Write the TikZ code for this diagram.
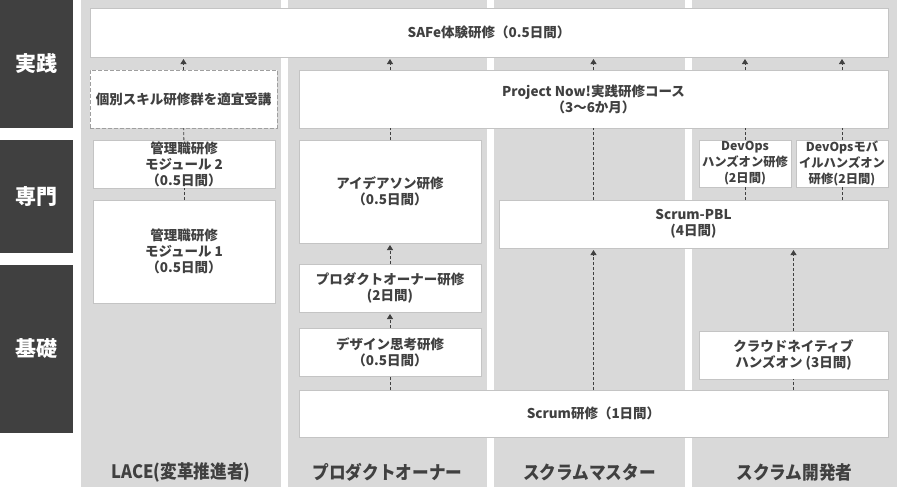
\documentclass[tikz,border=0pt]{standalone}
\usepackage{fontspec}
\newfontfamily\jp{Noto Sans CJK JP}
\newfontfamily\jpcond{Noto Sans CJK JP}[FakeStretch=0.9]
\usetikzlibrary{arrows.meta}
\definecolor{ink}{HTML}{404040}
\definecolor{laneGray}{HTML}{D9D9D9}
\definecolor{edgeGray}{HTML}{C4C4C4}
\tikzstyle{level} = [fill=ink, text=white, font={\jp\bfseries\fontsize{21}{24}\selectfont}, minimum width=73pt, inner sep=0pt, outer sep=0pt]
\tikzstyle{lane} = [fill=laneGray, minimum width=200pt, minimum height=487pt, inner sep=0pt, outer sep=0pt]
\tikzstyle{course} = [draw=edgeGray, fill=white, line width=0.8pt, align=center, text=ink, font={\jp\bfseries\fontsize{13.5}{16}\selectfont}, inner sep=0pt, outer sep=0pt]
\tikzstyle{narrow} = [course, font={\jp\bfseries\fontsize{12.3}{16}\selectfont}]
\tikzstyle{optional} = [course, draw=gray!75, dashed, dash pattern=on 4pt off 2pt]
\tikzstyle{role} = [text=ink, font={\jpcond\bfseries\fontsize{18.5}{20}\selectfont}]
\tikzstyle{link} = [draw=ink, line width=0.9pt, dash pattern=on 3pt off 2pt]
\tikzstyle{lead} = [link, -{Triangle[length=5pt,width=6pt]}, shorten >=2pt]

\begin{document}
\begin{tikzpicture}[x=1pt,y=-1pt]
    \fill[white] (0,0) rectangle (900,488);
    \useasboundingbox (0,0) rectangle (900,488);
    \node[level, minimum height=128pt](practice) at (36.5,64){実践};
    \node[level, minimum height=113pt](special) at (36.5,196.5){専門};
    \node[level, minimum height=168pt](basic) at (36.5,349){基礎};
    \node[lane](laneLace) at (181,243.5){};
    \node[lane, minimum width=199pt](lanePo) at (387.5,243.5){};
    \node[lane, minimum width=191pt](laneSm) at (589.5,243.5){};
    \node[lane, minimum width=205pt](laneDev) at (794.5,243.5){};
    \node[role](roleLace) at (181,472){LACE(変革推進者)};
    \node[role](rolePo) at (387.5,472){プロダクトオーナー};
    \node[role](roleSm) at (589.5,472){スクラムマスター};
    \node[role](roleDev) at (794.5,472){スクラム開発者};
    \node[course, minimum width=798pt, minimum height=49pt](safe) at (489,32.5){SAFe体験研修（0.5日間）};
    \node[optional, minimum width=187pt, minimum height=58pt](skill) at (183.5,99){個別スキル研修群を適宜受講};
    \node[course, minimum width=182pt, minimum height=48pt](mod2) at (184,164){管理職研修\\モジュール 2\\（0.5日間）};
    \node[course, minimum width=182pt, minimum height=103pt](mod1) at (184,251.5){管理職研修\\モジュール 1\\（0.5日間）};
    \node[course, minimum width=589pt, minimum height=58pt](pnow) at (593.5,99){Project Now!実践研修コース\\（3～6か月）};
    \node[course, minimum width=182pt, minimum height=103pt](idea) at (390,191.5){アイデアソン研修\\（0.5日間）};
    \node[course, minimum width=182pt, minimum height=48pt](po) at (390,288){プロダクトオーナー研修\\(2日間)};
    \node[course, minimum width=182pt, minimum height=48pt](design) at (390,352){デザイン思考研修\\（0.5日間）};
    \node[course, minimum width=589pt, minimum height=47pt](scrum) at (593.5,413.5){Scrum研修（1日間）};
    \node[course, minimum width=389pt, minimum height=48pt](pbl) at (693.5,224){Scrum-PBL\\(4日間)};
    \node[narrow, minimum width=92pt, minimum height=47pt](devops) at (745,163.5){DevOps\\ハンズオン研修\\(2日間)};
    \node[narrow, minimum width=92pt, minimum height=47pt](mobile) at (842,163.5){DevOpsモバ\\イルハンズオン\\研修(2日間)};
    \node[course, minimum width=189pt, minimum height=48pt](cloud) at (793.5,355){クラウドネイティブ\\ハンズオン (3日間)};
    \draw[link](mod1)--(mod2);
    \draw[link](mod2)--(skill);
    \draw[lead](skill.north)--(skill.north |- safe.south);
    \draw[lead](design)--(po);
    \draw[lead](po)--(idea);
    \draw[link](design.south |- scrum.north)--(design.south);
    \draw[link](idea.north)--(idea.north |- pnow.south);
    \draw[lead](idea.north |- pnow.north)--(idea.north |- safe.south);
    \draw[lead](scrum.north)--(scrum.north |- pbl.south);
    \draw[link](scrum.north |- pbl.north)--(pnow.south);
    \draw[lead](pnow.north)--(pnow.north |- safe.south);
    \draw[link](cloud.south |- scrum.north)--(cloud.south);
    \draw[lead](cloud.north)--(cloud.north |- pbl.south);
    \draw[link](devops.south |- pbl.north)--(devops.south);
    \draw[link](devops.north)--(devops.north |- pnow.south);
    \draw[lead](devops.north |- pnow.north)--(devops.north |- safe.south);
    \draw[link](mobile.south |- pbl.north)--(mobile.south);
    \draw[link](mobile.north)--(mobile.north |- pnow.south);
    \draw[lead](mobile.north |- pnow.north)--(mobile.north |- safe.south);
\end{tikzpicture}
\end{document}
